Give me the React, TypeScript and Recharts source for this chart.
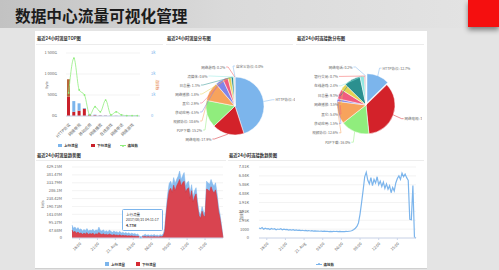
import React from 'react';
import {
  ComposedChart, Bar, Line, XAxis, YAxis, CartesianGrid, Cell,
  PieChart, Pie, AreaChart, Area, LineChart, Tooltip,
} from 'recharts';

const FONT = '"Noto Sans CJK SC", "Noto Sans", sans-serif';

// ---- TOP图 ----
const topCategories = ['HTTP协议', 'P2P下载', '网络电视', '视频协议', '移动应用', '其它', '网络播放', '日志量', '在线游戏', '银行交易', '网络电话', '流媒体', '网络游戏', '自定义协议'];
const topUp = [415, 255, 175, 15, 18, 12, 8, 5, 4, 3, 2, 2, 1, 1];
const topDown = [460, 100, 127, 175, 30, 20, 12, 8, 5, 4, 3, 2, 1, 0];
const topConn = [1100, 2750, 1240, 1000, 50, 440, 200, 760, 50, 200, 50, 20, 20, 20];
const topLeftTicks = [0, 500, 1000, 1500];
const topRightTicks = [0, 1000, 2000, 3000];

// ---- 分布图 ----
const flowNames = ['HTTP协议', '网络电视', 'P2P下载', '视频协议', '移动应用', '其它', '网络播放', '日志量', '流媒体', '网络游戏', '自定义协议'];
const flowShares = [45.0, 17.9, 15.2, 10.6, 4.5, 2.9, 1.8, 1.3, 0.6, 0.2, 0.0];
const connNames = ['HTTP协议', '网络电视', 'P2P下载', '视频协议', '移动应用', '其它', '网络播放', '日志量', '在线游戏', '银行交易', '网络电话'];
const connShares = [12.7, 35.7, 16.0, 12.6, 1.5, 5.4, 3.5, 9.3, 2.4, 0.7, 0.2];
const pieColors = ['#7cb5ec', '#d3222a', '#90ed7d', '#f7a35c', '#8085e9', '#f15c80', '#e4d354', '#2b908f', '#91e8e1', '#f45b5b', '#7cb5ec'];

// ---- 趋势图 (每15分钟一个点, 从 08/20 16:45 开始) ----
const trendStart = 16.75;
const trendStep = 0.25;
const flowUp = [
  82, 62, 70, 55, 66, 52,
  58, 45, 54, 48, 60, 44, 50, 47, 56, 42, 52, 46,
  69, 48, 44, 52, 40, 46, 38, 50, 42, 36, 44, 38,
  40, 34, 42, 31, 37, 30, 35, 28, 33, 26, 31, 25,
  28, 22, 26, 12, 5, 14, 18, 24, 17, 21, 16, 20,
  17, 22, 16, 19, 15, 21, 18, 25,
  60, 180, 280, 345, 360, 330, 383, 345, 372, 392, 424, 371, 395, 415, 328, 352, 360, 287, 338, 263,
  300, 319, 230, 167, 146, 199, 165, 159, 360, 350, 340, 371, 345, 328, 350, 287, 199, 150, 82, 3,
];
const flowDown = [
  50, 36, 42, 30, 38, 28,
  32, 24, 30, 26, 34, 22, 28, 25, 30, 21, 27, 24,
  35, 25, 22, 27, 20, 24, 19, 26, 21, 18, 22, 18,
  19, 16, 20, 14, 17, 14, 16, 13, 15, 12, 14, 11,
  12, 10, 11, 8, 3, 9, 8, 10, 7, 9, 7, 8,
  7, 9, 7, 8, 6, 9, 8, 12,
  40, 150, 240, 300, 315, 290, 335, 300, 330, 350, 371, 330, 350, 360, 290, 310, 318, 250, 300, 228,
  262, 280, 200, 140, 125, 170, 140, 135, 310, 305, 295, 325, 300, 285, 305, 250, 170, 125, 65, 2,
];
const connTrend = [
  1130, 1050, 1180, 980, 1100, 1020, 1060, 950, 1080, 990, 1040, 930, 1010, 960, 1050, 920, 990, 940,
  970, 900, 950, 880, 930, 860, 910, 850, 880, 830, 870, 820, 850, 800, 840, 790, 820, 780, 810, 770, 790, 760, 780, 750,
  770, 740, 760, 730, 750, 720, 740, 730, 745, 720, 740, 715, 735, 725, 740, 730, 760, 790, 850, 950,
  1100, 1300, 1700, 2700, 4000, 5400, 6900, 7400,
  6500, 6100, 6800, 5900, 6600, 6200, 6900, 6000, 6400, 5800, 6300, 5600, 6100, 5500, 5900, 5100, 5700, 5300,
  6200, 6700, 7000, 6600, 7300, 6900, 7200, 6800, 6500,
  2100, 2050, 5900, 100, 0,
];
const timeTicks = [18, 21, 24, 27, 30, 33, 36, 39];
const flowTicks = [0, 50, 100, 150, 200, 250, 300, 350, 400, 450];
const connTicks = [0, 1000, 2000, 3000, 4000, 5000, 6000, 7000, 8000];
const tipIndex = 46;
const tipTime = '2017/08/21 04:11:17';

const topData = topCategories.map((name, i) => ({ name, up: topUp[i], down: topDown[i], conn: topConn[i] }));
const flowPie = flowNames.map((name, i) => ({ name, value: flowShares[i] }));
const connPie = connNames.map((name, i) => ({ name, value: connShares[i] }));
const flowTrend = flowUp.map((v, i) => ({ t: trendStart + i * trendStep, up: v, down: flowDown[i] }));
const connData = connTrend.map((v, i) => ({ t: trendStart + i * trendStep, c: v }));

// 千位用不换行空格, 避免 recharts 把 "1 500G" 折成两行
const fmtG = (v: number) => (v >= 1000 ? `${Math.floor(v / 1000)}\u00a0${String(v % 1000).padStart(3, '0')}G` : `${v}G`);
const fmtK = (v: number) => (v === 0 ? '0' : `${v / 1000}k`);
const fmtM = (v: number) => (v === 0 ? '0' : `${parseFloat((v / 1.048576).toFixed(2))}M`);
const fmtConn = (v: number) => (v < 1024 ? String(v) : `${parseFloat((v / 1024).toFixed(2))}K`);
const fmtTime = (t: number) => (t === 24 ? '21.\u00a0Aug' : `${String(t % 24).padStart(2, '0')}:00`);

const tickStyle = { fontSize: 4, fill: '#666', fontFamily: FONT };

type LabelCfg = { leftMax: number; topDy: number; step: number; cap: number; reach: number };

// highcharts 风格的标签: 左边按行排列
const pieLabel = (cfg: LabelCfg) => (p: any) => {
  const { cx, cy, midAngle, outerRadius, index } = p;
  const name = p.payload?.name ?? p.name;
  const value = p.payload?.value ?? p.value;
  const th = ((90 - midAngle) * Math.PI) / 180;
  const sx = cx + outerRadius * Math.sin(th);
  const sy = cy - outerRadius * Math.cos(th);
  const rl = outerRadius + cfg.reach;
  const color = pieColors[index % pieColors.length];
  const text = `${name}: ${Number(value).toFixed(1)}%`;
  if (Math.sin(th) >= -1e-6) {
    const x = cx + rl * Math.sin(th);
    const y = cy - rl * Math.cos(th);
    return (
      <g key={`lb-${index}`}>
        <path d={`M${sx},${sy}L${x - 2},${y}L${x},${y}`} stroke={color} strokeWidth={0.5} fill="none" />
        <text x={x + 1} y={y} fontSize={3.5} fill="#666" fontFamily={FONT} dominantBaseline="central">{text}</text>
      </g>
    );
  }
  const y = cy + cfg.topDy + (cfg.leftMax - index) * cfg.step;
  const dy = y - cy;
  const x = cx - Math.min(cfg.cap, Math.sqrt(Math.max(0, rl * rl - dy * dy)));
  return (
    <g key={`lb-${index}`}>
      <path d={`M${sx},${sy}L${x + 2},${y}L${x},${y}`} stroke={color} strokeWidth={0.5} fill="none" />
      <text x={x - 1} y={y} fontSize={3.5} fill="#666" fontFamily={FONT} textAnchor="end" dominantBaseline="central">{text}</text>
    </g>
  );
};

const FlowTip = ({ payload }: any) => {
  const up = payload?.find((p: any) => p.dataKey === 'up');
  if (!up) return null;
  return (
    <div style={{ position: 'relative', background: 'rgba(255,255,255,0.9)', border: '0.5px solid #7cb5ec', borderRadius: 1.5, padding: '1.5px 3px', fontSize: 3.5, lineHeight: '5.5px', color: '#333', fontFamily: FONT, whiteSpace: 'nowrap' }}>
      <div>上行流量</div>
      <div>{tipTime}</div>
      <div style={{ fontWeight: 700 }}>{fmtM(up.value)}</div>
    </div>
  );
};

const abs = (left: number, top: number, extra: React.CSSProperties = {}): React.CSSProperties => ({ position: 'absolute', left, top, ...extra });

const Title = ({ x, y, text }: { x: number; y: number; text: string }) => (
  <div style={abs(x, y, { fontSize: 4.3, fontWeight: 700, color: '#333', lineHeight: '5px', whiteSpace: 'nowrap' })}>{text}</div>
);

const Rule = ({ x, y, w }: { x: number; y: number; w: number }) => (
  <div style={abs(x, y, { width: w, height: 0.6, background: '#ececec' })} />
);

const VText = ({ x, y, text, color = '#666', rot = -90 }: { x: number; y: number; text: string; color?: string; rot?: number }) => (
  <div style={abs(x, y, { fontSize: 3.5, color, whiteSpace: 'nowrap', lineHeight: '4px', transform: `translate(-50%, -50%) rotate(${rot}deg)` })}>{text}</div>
);

const LegendItem = ({ x, y, color, label, kind }: { x: number; y: number; color: string; label: string; kind: 'box' | 'line' }) => (
  <div style={abs(x, y - 2.5, { display: 'flex', alignItems: 'center', whiteSpace: 'nowrap', fontSize: 3.5, lineHeight: '5px', color: '#333', fontWeight: 700 })}>
    {kind === 'box' ? (
      <span style={{ display: 'inline-block', width: 4, height: 3.5, background: color, marginRight: 2 }} />
    ) : (
      <span style={{ position: 'relative', display: 'inline-block', width: 6, height: 4, marginRight: 1.5 }}>
        <span style={{ position: 'absolute', left: 0, top: 1.7, width: 6, height: 0.7, background: color }} />
        <span style={{ position: 'absolute', left: 2, top: 1, width: 2, height: 2, borderRadius: 1, background: color }} />
      </span>
    )}
    {label}
  </div>
);

export default function App() {
  const connSum = connShares.reduce((a, b) => a + b, 0);
  const httpMid = (connShares[0] / 2 / connSum) * 2 * Math.PI;
  const explode = 2.5;

  return (
    <div style={{ position: 'absolute', left: 0, top: 0, width: 499, height: 270, overflow: 'hidden', background: '#e4e4e4', fontFamily: FONT }}>
      {/* 标题栏 */}
      <div style={abs(0, 0, { width: 499, height: 28, background: 'linear-gradient(to right, #c2c2c2, #dadada 45%, #e4e4e4)' })} />
      <div style={abs(15, 6, { fontSize: 15.7, fontWeight: 700, color: '#1c1c1c', lineHeight: '20px', whiteSpace: 'nowrap' })}>数据中心流量可视化管理</div>
      <div style={abs(468, 0, { width: 31, height: 27, background: '#f50f0f', boxShadow: '0 3px 5px rgba(0,0,0,0.45)' })} />

      {/* 白色面板 */}
      <div style={abs(35, 31, { width: 392, height: 237, background: '#fff', borderBottom: '1px solid #d0d0d0' })} />

      <Title x={37} y={35.5} text="最近24小时流量TOP图" />
      <Title x={167} y={35.5} text="最近24小时流量分布图" />
      <Title x={297} y={35.5} text="最近24小时连接数分布图" />
      <Rule x={36} y={44} w={127} />
      <Rule x={166} y={44} w={127} />
      <Rule x={296} y={44} w={128} />
      <Title x={37} y={152.5} text="最近24小时流量趋势图" />
      <Title x={229} y={152.5} text="最近24小时连接数趋势图" />
      <Rule x={36} y={160} w={190} />
      <Rule x={228} y={160} w={196} />

      {/* TOP 柱状图 */}
      <div style={abs(36, 44)}>
        <ComposedChart width={124} height={100} data={topData} margin={{ top: 9, right: 0, bottom: 0, left: 0 }}>
          <CartesianGrid yAxisId="l" vertical={false} stroke="#e6e6e6" strokeWidth={0.5} />
          <XAxis dataKey="name" interval={1} angle={-45} textAnchor="end" height={28} tick={tickStyle} tickLine={false} stroke="#ccd6eb" tickMargin={1} />
          <YAxis yAxisId="l" width={30} domain={[0, 1500]} ticks={topLeftTicks} interval={0} tickFormatter={fmtG} tick={tickStyle} axisLine={false} tickLine={false} tickMargin={3} />
          <YAxis yAxisId="r" orientation="right" width={20} domain={[0, 3000]} ticks={topRightTicks} interval={0} tickFormatter={fmtK} tick={{ ...tickStyle, fill: '#7cb5ec' }} axisLine={false} tickLine={false} tickMargin={5} />
          <Bar yAxisId="l" dataKey="down" stackId="s" fill="#c9202a" barSize={3} isAnimationActive={false} />
          <Bar yAxisId="l" dataKey="up" stackId="s" fill="#7cb5ec" barSize={3} isAnimationActive={false}>
            {topData.map((d, i) => (
              <Cell key={`up-${i}`} fill={i === 0 ? '#b7683a' : '#7cb5ec'} />
            ))}
          </Bar>
          <Line yAxisId="r" dataKey="conn" type="monotone" stroke="#90ed7d" strokeWidth={0.8} dot={{ r: 0.9, fill: '#90ed7d', stroke: 'none' }} isAnimationActive={false} />
        </ComposedChart>
      </div>
      <VText x={47} y={85} text="byte" />
      <VText x={157} y={85} text="连接数" color="#e4753b" rot={90} />
      <LegendItem x={58} y={145.7} color="#7cb5ec" label="上行流量" kind="box" />
      <LegendItem x={91} y={145.7} color="#c9202a" label="下行流量" kind="box" />
      <LegendItem x={120} y={145.7} color="#90ed7d" label="连接数" kind="line" />

      {/* 流量分布饼图 */}
      <div style={abs(165, 46, { width: 130, height: 100, overflow: 'hidden' })}>
        <PieChart width={130} height={100}>
          <Pie data={flowPie} dataKey="value" nameKey="name" cx={65} cy={55} outerRadius={29} startAngle={90} endAngle={-270}
            stroke="#fff" strokeWidth={0.5} labelLine={false} isAnimationActive={false}
            label={pieLabel({ leftMax: 9, topDy: -39, step: 9, cap: 35, reach: 11 })}>
            {flowPie.map((d, i) => (
              <Cell key={`fp-${i}`} fill={pieColors[i]} />
            ))}
          </Pie>
        </PieChart>
      </div>

      {/* 连接数分布饼图 */}
      <div style={abs(295, 46, { width: 127, height: 100, overflow: 'hidden' })}>
        <PieChart width={127} height={100}>
          <Pie data={connPie} dataKey="value" nameKey="name" cx={66} cy={54} outerRadius={29} startAngle={90} endAngle={-270}
            stroke="#fff" strokeWidth={0.5} labelLine={false} isAnimationActive={false}
            label={pieLabel({ leftMax: 10, topDy: -38, step: 9.4, cap: 27, reach: 11 })}>
            {connPie.map((d, i) => (
              <Cell key={`cp-${i}`} fill={i === 0 ? 'transparent' : pieColors[i]} stroke={i === 0 ? 'none' : '#fff'} />
            ))}
          </Pie>
          <Pie data={connPie} dataKey="value" nameKey="name" cx={66 + explode * Math.sin(httpMid)} cy={54 - explode * Math.cos(httpMid)}
            outerRadius={29} startAngle={90} endAngle={-270} isAnimationActive={false}>
            {connPie.map((d, i) => (
              <Cell key={`cx-${i}`} fill={i === 0 ? pieColors[0] : 'transparent'} stroke={i === 0 ? '#fff' : 'none'} strokeWidth={0.5} />
            ))}
          </Pie>
        </PieChart>
      </div>

      {/* 流量趋势图 */}
      <div style={abs(36, 160)}>
        <AreaChart width={192} height={98} data={flowTrend} margin={{ top: 7, right: 5, bottom: 0, left: 0 }}>
          <CartesianGrid vertical={false} stroke="#e6e6e6" strokeWidth={0.5} />
          <XAxis dataKey="t" type="number" domain={[trendStart, 42]} ticks={timeTicks} tickFormatter={fmtTime} interval={0}
            angle={-45} textAnchor="end" height={20} tick={tickStyle} tickSize={2} stroke="#ccd6eb" />
          <YAxis width={36} domain={[0, 450]} ticks={flowTicks} interval={0} tickFormatter={fmtM} tick={tickStyle} axisLine={false} tickLine={false} tickMargin={4} />
          <Area dataKey="up" type="linear" stroke="#7cb5ec" strokeWidth={0.5} fill="#7cb5ec" fillOpacity={0.9} dot={false}
            activeDot={{ r: 1.3, fill: '#7cb5ec', stroke: '#fff', strokeWidth: 0.4 }} isAnimationActive={false} />
          <Area dataKey="down" type="linear" stroke="#d62a33" strokeWidth={0.5} fill="#e03a42" fillOpacity={0.92} dot={false}
            activeDot={false} isAnimationActive={false} />
          <Tooltip active defaultIndex={tipIndex} position={{ x: 86, y: 49 }} cursor={false} content={<FlowTip />} isAnimationActive={false} />
        </AreaChart>
      </div>
      <VText x={43} y={204} text="bit/s" />
      <LegendItem x={105} y={264} color="#7cb5ec" label="上行流量" kind="box" />
      <LegendItem x={136} y={264} color="#d62a33" label="下行流量" kind="box" />

      {/* 连接数趋势图 */}
      <div style={abs(228, 160)}>
        <LineChart width={193} height={98} data={connData} margin={{ top: 7, right: 5, bottom: 0, left: 0 }}>
          <CartesianGrid vertical={false} stroke="#e6e6e6" strokeWidth={0.5} />
          <XAxis dataKey="t" type="number" domain={[trendStart, 42]} ticks={timeTicks} tickFormatter={fmtTime} interval={0}
            angle={-45} textAnchor="end" height={20} tick={tickStyle} tickSize={2} stroke="#ccd6eb" />
          <YAxis width={31} domain={[0, 8000]} ticks={connTicks} interval={0} tickFormatter={fmtConn} tick={tickStyle} axisLine={false} tickLine={false} tickMargin={4} />
          <Line dataKey="c" type="linear" stroke="#7cb5ec" strokeWidth={1.2} dot={false} isAnimationActive={false} />
        </LineChart>
      </div>
      <VText x={242} y={215} text="连接数" />
      <LegendItem x={316} y={264} color="#7cb5ec" label="连接数" kind="line" />
    </div>
  );
}
